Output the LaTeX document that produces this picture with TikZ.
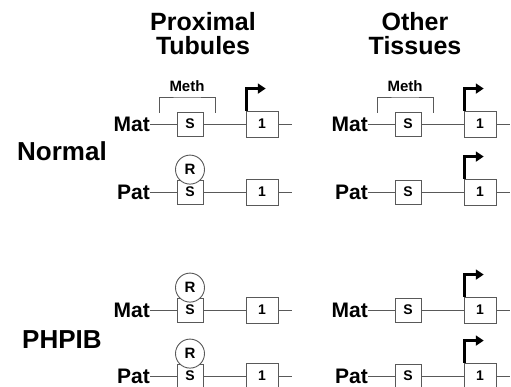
\documentclass[tikz,border=0pt]{standalone}
\usepackage{fontspec}
\setmainfont{Liberation Sans}
\usetikzlibrary{arrows.meta,positioning}

\definecolor{wirecol}{gray}{0.35}

\tikzset{
  rowlabel/.style={inner sep=0pt, font=\bfseries\fontsize{21}{21}\selectfont},
  headlabel/.style={inner sep=0pt, align=center, font=\bfseries\fontsize{25}{24}\selectfont},
  sidelabel/.style={inner sep=0pt, anchor=west, font=\bfseries\fontsize{26}{26}\selectfont},
  sbox/.style={draw=wirecol, line width=0.9pt, fill=white, minimum width=26pt, minimum height=24pt,
               inner sep=0pt, font=\bfseries\fontsize{14}{14}\selectfont},
  onebox/.style={draw=wirecol, line width=0.9pt, fill=white, minimum width=32pt, minimum height=26pt,
               inner sep=0pt, font=\bfseries\fontsize{14}{14}\selectfont},
  rcirc/.style={draw=wirecol, line width=0.9pt, fill=white, circle, minimum size=29pt, inner sep=0pt,
               font=\bfseries\fontsize{15}{15}\selectfont},
  wire/.style={draw=wirecol, line width=0.9pt},
  bracket/.style={draw=wirecol, line width=0.9pt},
  methlabel/.style={inner sep=0pt, font=\bfseries\fontsize{15}{15}\selectfont},
  tss/.style={line width=2.6pt, -{Triangle[length=8pt,width=10pt]}},
}

% One gene copy: label, S box, exon 1 box and the wire through them.
% #1 prefix, #2 x offset, #3 row y, #4 label text
\newcommand\generow[4]{%
  \node[rowlabel, anchor=east] (#1lab) at (#2+150,#3) {#4};
  \node[sbox]   (#1s) at (#2+190,#3) {S};
  \node[onebox] (#1e) at (#2+262,#3) {1};
  \coordinate (#1end) at (#2+292,#3);
  \draw[wire] (#1lab.east) -- (#1s.west) (#1s.east) -- (#1e.west) (#1e.east) -- (#1end);
}
% Repressor bound on S
\newcommand\repressor[1]{%
  \node[rcirc, above=-5pt of #1s] (#1r) {R};
}
% Transcription start arrow on exon 1
\newcommand\tssarrow[1]{%
  \draw[tss] ([xshift=1.2pt]#1e.north west) |- ++(19,-22);
}
% Methylation bracket over S
\newcommand\methmark[2]{%
  \coordinate (#1ml) at (#2+159,113);
  \coordinate (#1mr) at (#2+215,113);
  \draw[bracket] (#1ml) |- (#2+187,97) -| (#1mr);
  \node[methlabel] (#1mt) at (#2+187,86) {Meth};
}

\begin{document}
\begin{tikzpicture}[x=1pt, y=-1pt]
  \useasboundingbox (0,0) rectangle (511,387);

  % column headings
  \node[headlabel, anchor=north] (hprox) at (203,12) {Proximal\\Tubules};
  \node[headlabel, anchor=north] (hother) at (415,12) {Other\\Tissues};

  % row headings
  \node[sidelabel] (hnorm) at (17,151) {Normal};
  \node[sidelabel] (hphp) at (22,340) {PHPIB};

  % Normal, proximal tubules
  \generow{pnm}{0}{124}{Mat}
  \methmark{pnm}{0}
  \tssarrow{pnm}
  \generow{pnp}{0}{192}{Pat}
  \repressor{pnp}

  % Normal, other tissues
  \generow{onm}{218}{124}{Mat}
  \methmark{onm}{218}
  \tssarrow{onm}
  \generow{onp}{218}{192}{Pat}
  \tssarrow{onp}

  % PHPIB, proximal tubules
  \generow{ppm}{0}{310}{Mat}
  \repressor{ppm}
  \generow{ppp}{0}{376}{Pat}
  \repressor{ppp}

  % PHPIB, other tissues
  \generow{opm}{218}{310}{Mat}
  \tssarrow{opm}
  \generow{opp}{218}{376}{Pat}
  \tssarrow{opp}
\end{tikzpicture}
\end{document}
